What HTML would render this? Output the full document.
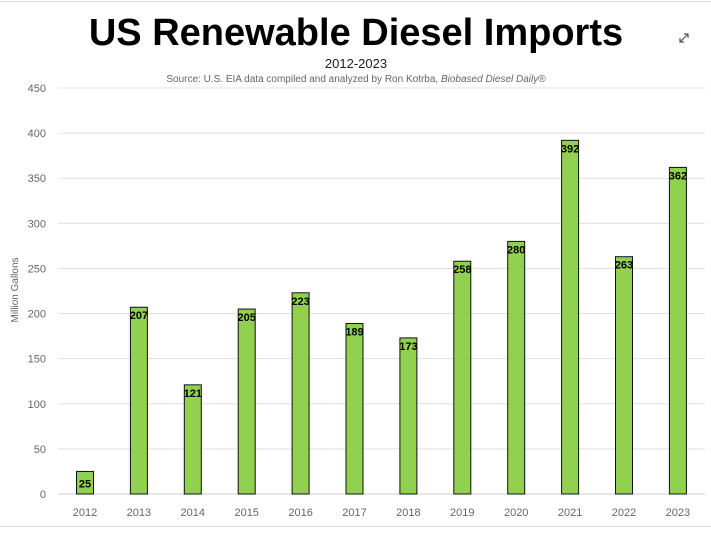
<!DOCTYPE html>
<html><head><meta charset="utf-8"><style>
body{margin:0;background:#fff;width:711px;height:529px;overflow:hidden;font-family:"Liberation Sans",sans-serif}
</style></head><body>
<svg width="711" height="529">
<line x1="0" y1="1.5" x2="711" y2="1.5" stroke="#ddd"/>
<line x1="0" y1="526.5" x2="711" y2="526.5" stroke="#ddd"/>
<text x="356" y="45" text-anchor="middle" font-size="38" font-weight="bold" font-family="Liberation Sans Narrow, Liberation Sans, sans-serif">US Renewable Diesel Imports</text>
<text x="356" y="68" text-anchor="middle" font-size="13" fill="#222">2012-2023</text>
<text x="356" y="82" text-anchor="middle" font-size="10" fill="#666">Source: U.S. EIA data compiled and analyzed by Ron Kotrba, <tspan font-style="italic">Biobased Diesel Daily</tspan>®</text>
<g transform="translate(680,34)" stroke="#555" stroke-width="1.2" fill="none"><path d="M0,8 L8,0 M4,0 L8,0 L8,4 M0,4 L0,8 L4,8"/></g>
<text x="18" y="290" transform="rotate(-90 18 290)" text-anchor="middle" font-size="10" fill="#666">Million Gallons</text>
<g id="grid"></g><g id="bars"></g>
</svg>
<script>
const categories=["2012","2013","2014","2015","2016","2017","2018","2019","2020","2021","2022","2023"];
const values=[25,207,121,205,223,189,173,258,280,392,263,362];
const labels=["25","207","121","205","223","189","173","258","280","392","263","362"];
const yTicks=[0,50,100,150,200,250,300,350,400,450];
const ns="http://www.w3.org/2000/svg";
const y=v=>494-v*(406/450);
const x=i=>85+i*53.9;
const g=document.getElementById('grid'),b=document.getElementById('bars');
function mk(t,a,p){const e=document.createElementNS(ns,t);for(const k in a)e.setAttribute(k,a[k]);p.appendChild(e);return e;}
yTicks.forEach(v=>{
 const l=mk('line',{x1:58,x2:705,y1:y(v),y2:y(v),stroke:v?'#e0e0e0':'#ccc'},g);
 
 
 const t=mk('text',{x:46,y:y(v)+4,'text-anchor':'end','font-size':11,fill:'#666'},g);t.textContent=v;
 
 
});
categories.forEach((c,i)=>{
 const r=mk('rect',{x:x(i)-8.5,y:y(values[i]),width:17,height:494-y(values[i]),fill:'#92d050',stroke:'#111','stroke-width':1},b);
 
 
 const t=mk('text',{x:x(i),y:y(values[i])+(values[i]<40?16:12),'text-anchor':'middle','font-size':11,'font-weight':'bold'},b);t.textContent=labels[i];
 
 
 const xt=mk('text',{x:x(i),y:516,'text-anchor':'middle','font-size':11,fill:'#666'},b);xt.textContent=c;
 
 
});
</script>
</body></html>
